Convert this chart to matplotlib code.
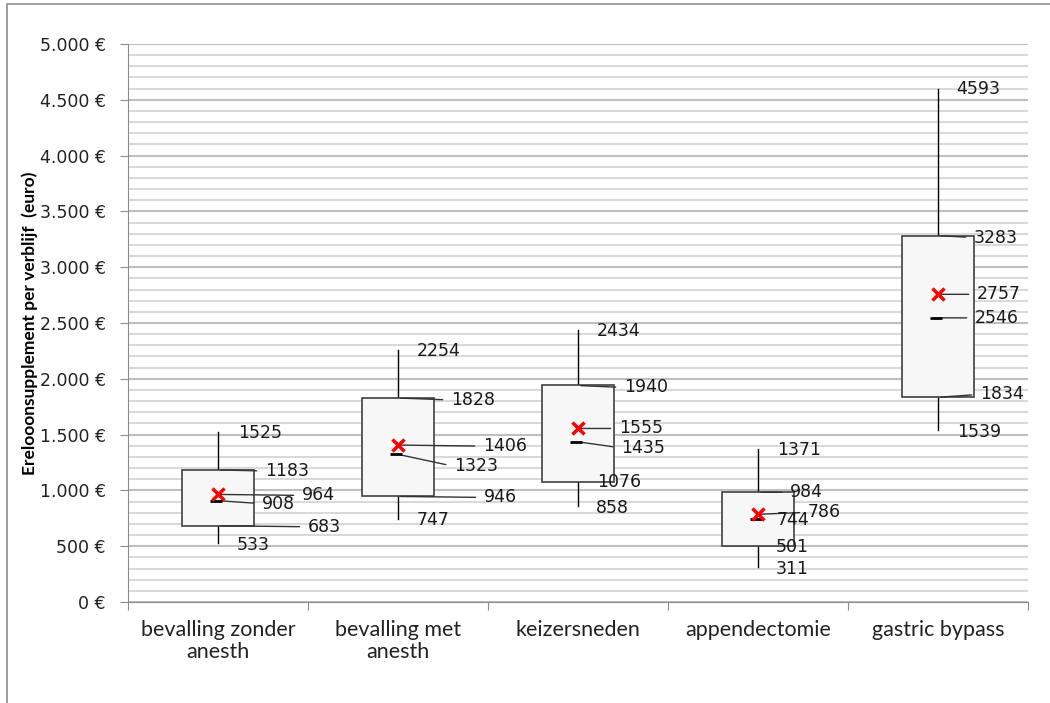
import numpy as np
import matplotlib
matplotlib.use('Agg')
import matplotlib.pyplot as plt
from matplotlib.ticker import FuncFormatter, MultipleLocator
from matplotlib.patches import Rectangle

# ---- data: stay statistics per procedure (euro) ----
categories = ['bevalling zonder\nanesth', 'bevalling met\nanesth', 'keizersneden',
              'appendectomie', 'gastric bypass']
v_min = [533, 747, 858, 311, 1539]
v_q1 = [683, 946, 1076, 501, 1834]
v_median = [908, 1323, 1435, 744, 2546]
v_mean = [964, 1406, 1555, 786, 2757]
v_q3 = [1183, 1828, 1940, 984, 3283]
v_max = [1525, 2254, 2434, 1371, 4593]

# label placement per box: (dx, dy) in pixels for max, q3, mean, median, q1, min
label_offsets = [
    [(20, -1), (47, -1), (84, -1), (44, -3), (90, -1), (19, -2)],
    [(19, -1), (53, -2), (85, -1), (56, -12), (86, -1), (19, -1)],
    [(19, -1), (46, -2), (41, 0), (43, -6), (19, 0), (18, -2)],
    [(19, -1), (32, 0), (50, 2), (19, -1), (18, -1), (18, -2)],
    [(18, 0), (36, -2), (39, 0), (37, 0), (42, 3), (19, -2)],
]
leaders = [
    [False, True, True, True, True, False],
    [False, True, True, True, True, False],
    [False, True, True, True, False, False],
    [False, True, True, False, False, False],
    [False, True, True, True, True, False],
]

fig = plt.figure(figsize=(10.5, 7.03), dpi=100)
ax = fig.add_axes([128 / 1050, 101 / 703, 900 / 1050, 558 / 703])

# outer chart frame
fig.patches.append(Rectangle((7 / 1050, -0.1), 1.2, (703 - 4) / 703 + 0.1,
                             transform=fig.transFigure, fill=False,
                             edgecolor='#8c8c8c', lw=1.2))

ax.set_xlim(0, 5)
ax.set_ylim(0, 5000)
ax.yaxis.set_major_locator(MultipleLocator(500))
ax.yaxis.set_minor_locator(MultipleLocator(100))
ax.yaxis.set_major_formatter(FuncFormatter(lambda v, p: f'{int(v):,} €'.replace(',', '.')))
ax.grid(True, which='major', axis='y', color='#bfbfbf', lw=1.5)
ax.grid(True, which='minor', axis='y', color='#d9d9d9', lw=1.5)
ax.set_axisbelow(True)
ax.tick_params(axis='y', which='major', length=6, color='#8c8c8c', labelsize=12.5,
               labelcolor='#222222', pad=10)
ax.tick_params(axis='y', which='minor', length=0)

ax.set_xticks(range(6))
ax.set_xticklabels([])
ax.set_xticks(np.arange(len(categories)) + 0.5, minor=True)
ax.set_xticklabels(categories, minor=True, fontsize=15.5, family='Lato', color='#222222',
                   linespacing=1.1)
ax.tick_params(axis='x', which='major', length=6, color='#8c8c8c')
ax.tick_params(axis='x', which='minor', length=0, pad=13)

for s in ['top', 'right']:
    ax.spines[s].set_visible(False)
for s in ['left', 'bottom']:
    ax.spines[s].set_color('#8c8c8c')

ax.set_ylabel('Erelooonsupplement per verblijf  (euro)', fontsize=12.5,
              family='Lato', fontweight='bold')
ax.yaxis.set_label_coords(-0.100, 0.5)

box_w = 0.4
for i in range(len(categories)):
    xc = i + 0.5
    ax.plot([xc, xc], [v_min[i], v_q1[i]], color='black', lw=1, zorder=3)
    ax.plot([xc, xc], [v_q3[i], v_max[i]], color='black', lw=1, zorder=3)
    ax.add_patch(Rectangle((xc - box_w / 2, v_q1[i]), box_w, v_q3[i] - v_q1[i],
                           facecolor='#f7f7f7', edgecolor='#404040', lw=1.2, zorder=3))
    vals = [v_max[i], v_q3[i], v_mean[i], v_median[i], v_q1[i], v_min[i]]
    for k, val in enumerate(vals):
        dx, dy = label_offsets[i][k]
        kw = {}
        if leaders[i][k]:
            kw['arrowprops'] = dict(arrowstyle='-', color='#333333', lw=1,
                                    shrinkA=4, shrinkB=2, relpos=(0, 0.5))
        ax.annotate(str(val), xy=(xc, val), xytext=(dx, dy), textcoords='offset pixels',
                    ha='left', va='center', fontsize=12.5, color='#1a1a1a',
                    zorder=4, **kw)
    ax.plot(xc - 0.01, v_median[i], marker='_', ms=9, mew=2, color='black', zorder=5)
    ax.plot(xc, v_mean[i], marker='x', ms=8, mew=2.5, color='red', zorder=6)

fig.savefig('out.png', dpi=100)
